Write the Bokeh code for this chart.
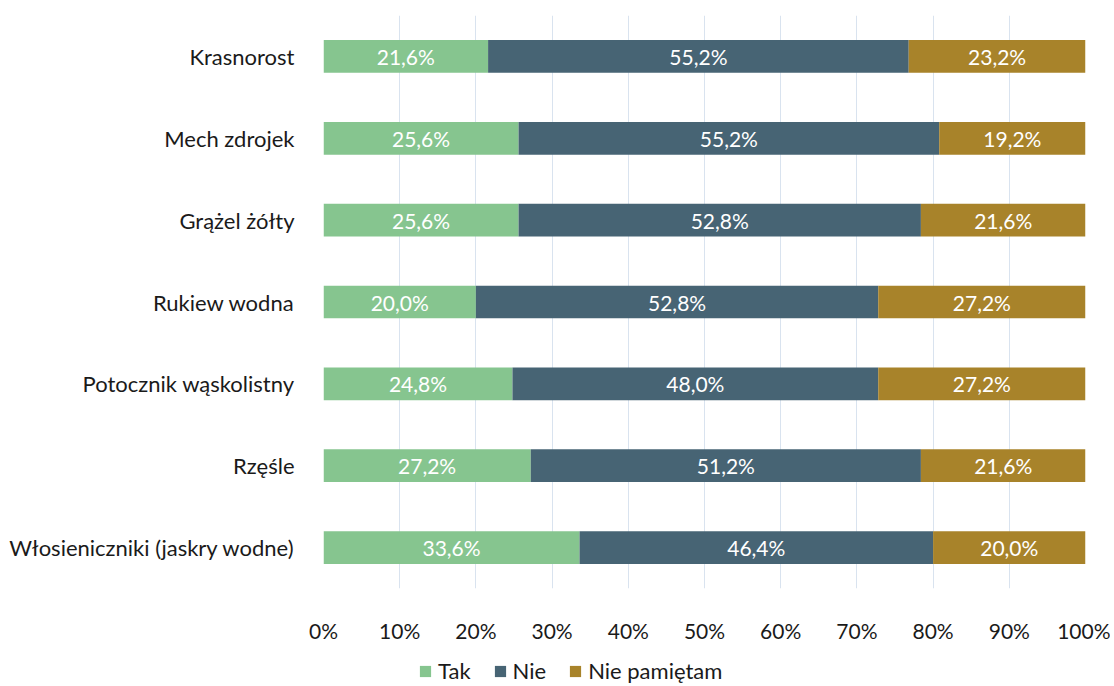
from bokeh.plotting import figure
from bokeh.layouts import column
from bokeh.models import ColumnDataSource, FixedTicker, PrintfTickFormatter, Range1d, Legend, LegendItem
from bokeh.core.properties import value
from bokeh.embed import file_html
from bokeh.resources import INLINE

categories = ["Krasnorost", "Mech zdrojek", "Grążel żółty", "Rukiew wodna",
              "Potocznik wąskolistny", "Rzęśle", "Włosieniczniki (jaskry wodne)"]
tak = [21.6, 25.6, 25.6, 20.0, 24.8, 27.2, 33.6]
nie = [55.2, 55.2, 52.8, 52.8, 48.0, 51.2, 46.4]
nie_pamietam = [23.2, 19.2, 21.6, 27.2, 27.2, 21.6, 20.0]
series_names = ["Tak", "Nie", "Nie pamiętam"]
colors = ["#86C58F", "#476474", "#A8832A"]
x_ticks = [0, 10, 20, 30, 40, 50, 60, 70, 80, 90, 100]

FONT = "Lato"
TXT = "#1a1a1a"

factors = list(reversed(categories))
data = {"cat": categories, "Tak": tak, "Nie": nie, "Nie pamiętam": nie_pamietam}
source = ColumnDataSource(data)

p = figure(y_range=factors, width=1110, height=645, output_backend="svg",
           toolbar_location=None, min_border_left=323, min_border_right=25,
           min_border_top=15, min_border_bottom=53)
p.x_range = Range1d(0, 100)
p.y_range.range_padding = 0

renderers = p.hbar_stack(series_names, y="cat", height=0.4, color=colors,
                         line_color=None, source=source)

for i, name in enumerate(series_names):
    vals = data[name]
    mids = []
    for j in range(len(categories)):
        s = sum(data[series_names[k]][j] for k in range(i))
        mids.append(s + vals[j] / 2)
    labels = [f"{v:.1f}".replace(".", ",") + "%" for v in vals]
    lsrc = ColumnDataSource(dict(x=mids, y=categories, t=labels))
    p.text(x="x", y="y", text="t", source=lsrc, text_color="white",
           text_font=value(FONT), text_font_size="21px",
           text_align="center", text_baseline="middle")

p.xaxis.ticker = FixedTicker(ticks=x_ticks)
p.xaxis.formatter = PrintfTickFormatter(format="%d%%")
p.xaxis.axis_line_color = None
p.xaxis.major_tick_line_color = None
p.xaxis.minor_tick_line_color = None
p.xaxis.major_label_standoff = 23
p.xaxis.major_label_text_font = FONT
p.xaxis.major_label_text_font_size = "21px"
p.xaxis.major_label_text_color = TXT

p.yaxis.axis_line_color = None
p.yaxis.major_tick_line_color = None
p.yaxis.minor_tick_line_color = None
p.yaxis.major_label_standoff = 23
p.yaxis.major_label_text_font = FONT
p.yaxis.major_label_text_font_size = "22px"
p.yaxis.major_label_text_color = TXT

p.xgrid.grid_line_color = "#D9E3EF"
p.xgrid.grid_line_width = 1
p.ygrid.grid_line_color = None
p.outline_line_color = None

# legend strip (zero-size swatch glyphs, only their colours are shown in the legend)
lg = figure(width=1110, height=40, output_backend="svg", toolbar_location=None,
            min_border=0, x_range=Range1d(0, 1), y_range=Range1d(0, 1))
lg.axis.visible = False
lg.grid.visible = False
lg.outline_line_color = None
lg_renderers = [lg.hbar(y=[0.5], left=[0], right=[0], height=0, color=c, line_color=None)
                for c in colors]
legend = Legend(items=[LegendItem(label=n, renderers=[r]) for n, r in zip(series_names, lg_renderers)],
                orientation="horizontal", location=(95, 1),
                label_text_font=FONT, label_text_font_size="22px",
                label_text_color=TXT, label_height=22,
                glyph_width=14, glyph_height=14, spacing=22, label_standoff=6,
                border_line_color=None, background_fill_alpha=0, padding=0, margin=0)
lg.add_layout(legend, "center")

layout = column(p, lg, spacing=0)
open("out.html", "w").write(file_html(layout, INLINE))
